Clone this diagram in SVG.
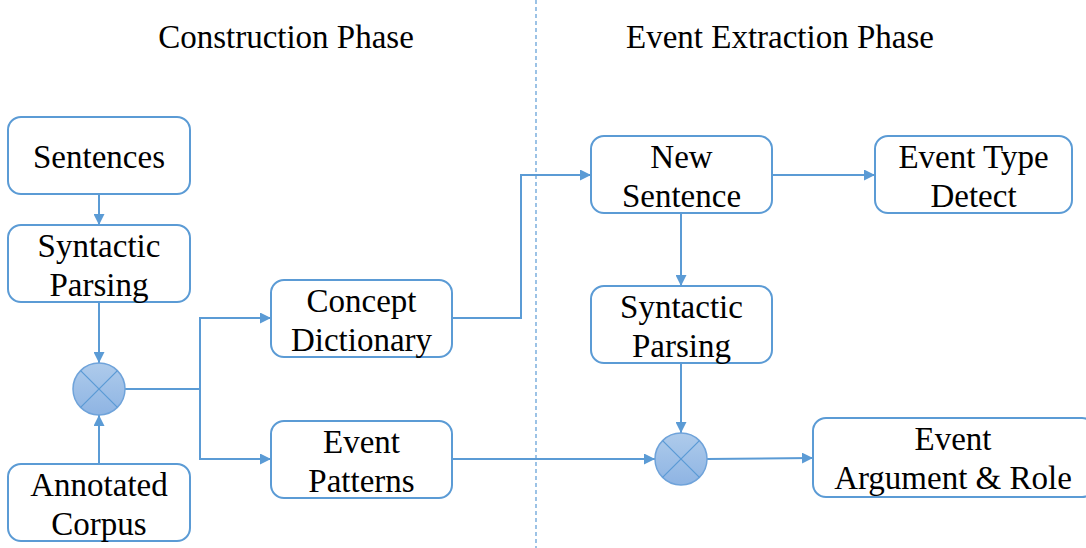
<svg xmlns="http://www.w3.org/2000/svg" width="1086" height="548" viewBox="0 0 1086 548">
<style>
.box{fill:#fff;stroke:#5B9BD5;stroke-width:2}
.t{font-family:"Liberation Serif","Times New Roman",serif;font-size:33px;fill:#000;text-anchor:middle}
.c{fill:none;stroke:#5B9BD5;stroke-width:2}
.x{stroke:#5B9BD5;stroke-width:1.3}
.mc{fill:url(#g);stroke:#6FA3DA;stroke-width:1.5}
</style>
<defs>
<linearGradient id="g" x1="0" y1="0" x2="0" y2="1">
<stop offset="0" stop-color="#AECBEB"/>
<stop offset="1" stop-color="#8EB4E3"/>
</linearGradient>
<marker id="a" viewBox="0 0 10 10" refX="10" refY="5" markerWidth="11" markerHeight="11" markerUnits="userSpaceOnUse" orient="auto">
<path d="M0,0 L10,5 L0,10 z" fill="#5B9BD5"/>
</marker>
</defs>
<line x1="536" y1="0" x2="536" y2="548" stroke="#5B9BD5" stroke-width="1.2" stroke-dasharray="4,3"/>
<text class="t" x="286" y="48">Construction Phase</text>
<text class="t" x="780" y="48">Event Extraction Phase</text>
<g id="connectors">
<path class="c" d="M99,194 V225" marker-end="url(#a)"/>
<path class="c" d="M99,302 V363" marker-end="url(#a)"/>
<path class="c" d="M99,464 V415" marker-end="url(#a)"/>
<path class="c" d="M125,389 H200 V318 H271" marker-end="url(#a)"/>
<path class="c" d="M200,389 V459 H271" marker-end="url(#a)"/>
<path class="c" d="M452,318 H521 V175 H591" marker-end="url(#a)"/>
<path class="c" d="M772,175 H875" marker-end="url(#a)"/>
<path class="c" d="M681,213 V286" marker-end="url(#a)"/>
<path class="c" d="M681,363 V433" marker-end="url(#a)"/>
<path class="c" d="M452,459 H655" marker-end="url(#a)"/>
<path class="c" d="M707,459 L813,458" marker-end="url(#a)"/>
</g>
<g id="sentences"><rect class="box" x="8" y="117" width="182" height="77" rx="13"/><text class="t" x="99" y="168">Sentences</text></g>
<g id="syntactic1"><rect class="box" x="8" y="225" width="182" height="77" rx="13"/><text class="t" x="99" y="257">Syntactic</text><text class="t" x="99" y="296">Parsing</text></g>
<g id="merge1"><circle class="mc" cx="99" cy="389" r="26"/><path class="x" d="M80.6,370.6 L117.4,407.4 M117.4,370.6 L80.6,407.4"/></g>
<g id="corpus"><rect class="box" x="8" y="464" width="182" height="77" rx="13"/><text class="t" x="99" y="496">Annotated</text><text class="t" x="99" y="535">Corpus</text></g>
<g id="concept"><rect class="box" x="271" y="280" width="181" height="77" rx="13"/><text class="t" x="361.5" y="312">Concept</text><text class="t" x="361.5" y="351">Dictionary</text></g>
<g id="patterns"><rect class="box" x="271" y="421" width="181" height="77" rx="13"/><text class="t" x="361.5" y="453">Event</text><text class="t" x="361.5" y="492">Patterns</text></g>
<g id="newsentence"><rect class="box" x="591" y="136" width="181" height="77" rx="13"/><text class="t" x="681.5" y="168">New</text><text class="t" x="681.5" y="207">Sentence</text></g>
<g id="typedetect"><rect class="box" x="875" y="136" width="197" height="77" rx="13"/><text class="t" x="973.5" y="168">Event Type</text><text class="t" x="973.5" y="207">Detect</text></g>
<g id="syntactic2"><rect class="box" x="591" y="286" width="181" height="77" rx="13"/><text class="t" x="681.5" y="318">Syntactic</text><text class="t" x="681.5" y="357">Parsing</text></g>
<g id="merge2"><circle class="mc" cx="681" cy="459" r="26"/><path class="x" d="M662.6,440.6 L699.4,477.4 M699.4,440.6 L662.6,477.4"/></g>
<g id="argument"><rect class="box" x="813" y="418" width="282" height="79" rx="13"/><text class="t" x="953" y="450">Event</text><text class="t" x="953" y="489">Argument &amp; Role</text></g>
</svg>
